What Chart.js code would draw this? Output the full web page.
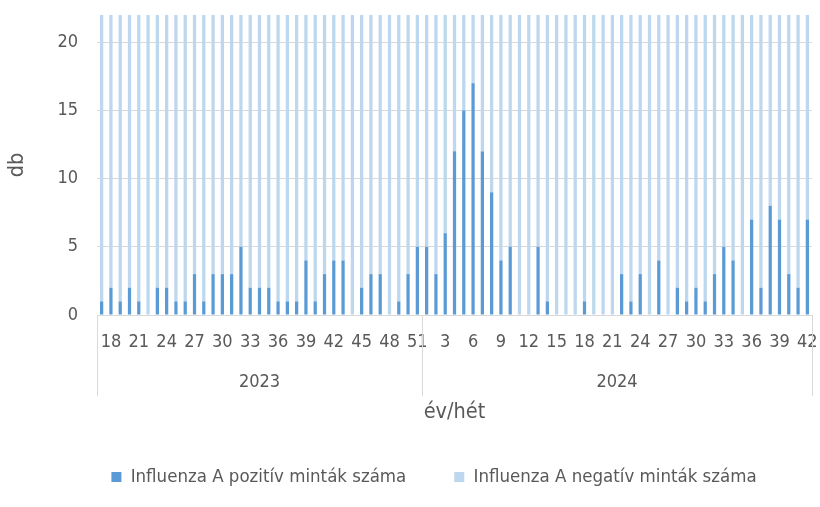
<!DOCTYPE html>
<html>
<head>
<meta charset="utf-8">
<script src="https://cdn.jsdelivr.net/npm/chart.js@4/dist/chart.umd.min.js"></script>
<style>
  html, body { margin: 0; padding: 0; background: #fff; }
  #wrap { width: 820px; height: 507px; }
</style>
</head>
<body>
<div id="wrap"><canvas id="c"></canvas></div>
<script>
const years = ['2023', '2024'];
const yearCounts = [35, 42];
const weeks = [
  17, 18, 19, 20, 21, 22, 23, 24, 25, 26, 27, 28, 29, 30, 31, 32, 33, 34, 35, 36,
  37, 38, 39, 40, 41, 42, 43, 44, 45, 46, 47, 48, 49, 50, 51,
  1, 2, 3, 4, 5, 6, 7, 8, 9, 10, 11, 12, 13, 14, 15, 16, 17, 18, 19, 20,
  21, 22, 23, 24, 25, 26, 27, 28, 29, 30, 31, 32, 33, 34, 35, 36, 37, 38, 39, 40,
  41, 42
];
const positive = [
  1, 2, 1, 2, 1, 0, 2, 2, 1, 1, 3, 1, 3, 3, 3, 5, 2, 2, 2, 1,
  1, 1, 4, 1, 3, 4, 4, 0, 2, 3, 3, 0, 1, 3, 5,
  5, 3, 6, 12, 15, 17, 12, 9, 4, 5, 0, 0, 5, 1, 0, 0, 0, 1, 0, 0,
  0, 3, 1, 3, 0, 4, 0, 2, 1, 2, 1, 3, 5, 4, 0, 7, 2, 8, 7, 3,
  2, 7
];
// negatives run past the top of the axis, so these are only rough guesses
const negative = [
  38, 35, 41, 33, 36, 30, 34, 37, 31, 35, 39, 33, 36, 40, 38, 42, 37, 41, 44, 46,
  43, 48, 52, 47, 55, 58, 53, 57, 61, 64, 59, 66, 70, 74, 68,
  72, 85, 92, 98, 104, 96, 88, 81, 76, 70, 65, 62, 58, 55, 51, 48, 44, 40, 38, 36,
  34, 35, 33, 31, 34, 32, 30, 33, 35, 37, 36, 40, 42, 45, 48, 50, 53, 55, 58, 60,
  62, 65
];
const yTicks = [0, 5, 10, 15, 20];

const grey = '#595959';
const gridCol = '#d9d9d9';
const fontFam = "'Liberation Sans Narrow', 'DejaVu Sans Condensed', 'Liberation Sans', sans-serif";

// year row under the week labels plus the group separators
const yearRow = {
  id: 'yearRow',
  afterLayout(chart) {
    // legend sits a bit right of centre in the original
    chart.legend.left += 28;
    chart.legend.right += 28;
  },
  afterDraw(chart) {
    const x = chart.scales.x;
    const ctx = chart.ctx;
    const top = chart.chartArea.bottom;
    const bottom = top + 81;
    let start = 0;
    const edges = [chart.chartArea.left];
    ctx.save();
    ctx.font = '18px ' + fontFam;
    ctx.fillStyle = grey;
    ctx.textAlign = 'center';
    ctx.textBaseline = 'middle';
    years.forEach((yr, i) => {
      const end = start + yearCounts[i] - 1;
      const l = start === 0 ? chart.chartArea.left : (x.getPixelForValue(start - 1) + x.getPixelForValue(start)) / 2;
      const r = end === weeks.length - 1 ? chart.chartArea.right : (x.getPixelForValue(end) + x.getPixelForValue(end + 1)) / 2;
      edges.push(r);
      ctx.fillText(yr, (l + r) / 2, top + 67);
      start = end + 1;
    });
    ctx.strokeStyle = gridCol;
    ctx.lineWidth = 1;
    edges.forEach(e => {
      ctx.beginPath();
      ctx.moveTo(Math.round(e) + 0.5, top);
      ctx.lineTo(Math.round(e) + 0.5, bottom);
      ctx.stroke();
    });
    ctx.restore();
  }
};

new Chart(document.getElementById('c'), {
  type: 'bar',
  data: {
    labels: weeks.map(String),
    datasets: [
      {
        label: 'Influenza A pozitív minták száma',
        data: positive,
        backgroundColor: '#5b9bd5',
        barPercentage: 0.7,
        categoryPercentage: 0.5
      },
      {
        label: 'Influenza A negatív minták száma',
        data: negative,
        backgroundColor: '#bdd7ee',
        barPercentage: 0.7,
        categoryPercentage: 0.5
      }
    ]
  },
  options: {
    responsive: true,
    maintainAspectRatio: false,
    animation: false,
    layout: { padding: { top: 15, right: 8, left: 0, bottom: 10.75 } },
    plugins: {
      tooltip: { enabled: false },
      legend: {
        position: 'bottom',
        labels: {
          color: grey,
          font: { size: 18.5, family: fontFam },
          boxWidth: 10,
          boxHeight: 10,
          padding: 48
        }
      }
    },
    scales: {
      x: {
        stacked: true,
        grid: { display: false, drawTicks: false },
        border: { display: true, color: gridCol },
        ticks: {
          autoSkip: false,
          maxRotation: 0,
          color: grey,
          padding: 17,
          font: { size: 18, family: fontFam },
          callback: (v, i) => (i % 3 === 1 ? String(weeks[i]) : '')
        },
        title: {
          display: true,
          text: 'év/hét',
          color: grey,
          font: { size: 21.5, family: fontFam },
          padding: { top: 0, bottom: -6 }
        },
        afterFit: s => {
          s.height = 104.75;
          s.paddingLeft = 0;
          s.paddingRight = 0;
        }
      },
      y: {
        stacked: true,
        min: 0,
        max: 22,
        grid: { color: gridCol, drawTicks: false },
        border: { display: false },
        ticks: {
          stepSize: 5,
          includeBounds: false,
          padding: 19,
          color: grey,
          font: { size: 18, family: fontFam },
          callback: v => (yTicks.includes(v) ? v : '')
        },
        title: {
          display: true,
          text: 'db',
          color: grey,
          font: { size: 21.5, family: fontFam },
          padding: { top: 5, bottom: 0 }
        },
        afterFit: s => {
          s.width = 97;
          s.paddingTop = 0;
          s.paddingBottom = 0;
        }
      }
    }
  },
  plugins: [yearRow]
});
</script>
</body>
</html>
